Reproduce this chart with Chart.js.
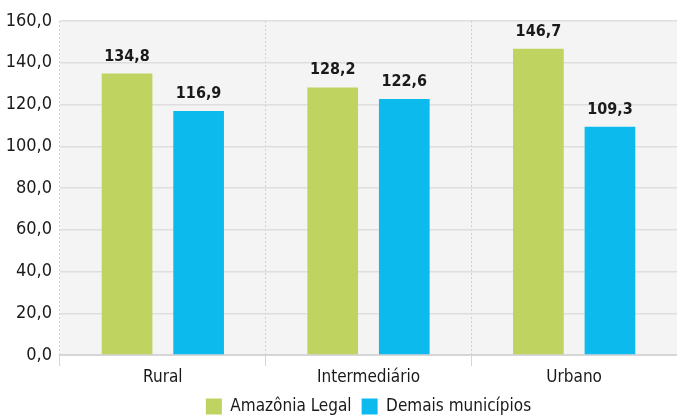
<!DOCTYPE html>
<html>
<head>
<meta charset="utf-8">
<script src="https://cdn.jsdelivr.net/npm/chart.js@4/dist/chart.umd.min.js"></script>
<style>
  html, body { margin: 0; padding: 0; background: #fff; }
  #wrap { width: 677px; height: 416px; }
</style>
</head>
<body>
<div id="wrap"><canvas id="grafico"></canvas></div>
<script>
// dados do gráfico
var categorias = ['Rural', 'Intermediário', 'Urbano'];
var amazoniaLegal = [134.8, 128.2, 146.7];
var demaisMunicipios = [116.9, 122.6, 109.3];
var ticksY = [0, 20, 40, 60, 80, 100, 120, 140, 160];

var fonte = "'DejaVu Sans Condensed', 'DejaVu Sans', sans-serif";

function virgula(v) {
  return Number(v).toFixed(1).replace('.', ',');
}

// fundo cinza só na área do gráfico
var fundo = {
  id: 'fundo',
  beforeDraw: function(chart) {
    var a = chart.chartArea, ctx = chart.ctx;
    ctx.save();
    ctx.fillStyle = '#f4f4f4';
    ctx.fillRect(a.left, a.top, a.right - a.left, a.bottom - a.top);
    ctx.restore();
  }
};

// rótulos em cima das barras
var rotulos = {
  id: 'rotulos',
  afterDatasetsDraw: function(chart) {
    var ctx = chart.ctx;
    ctx.save();
    ctx.font = 'bold 16px ' + fonte;
    ctx.fillStyle = '#1a1a1a';
    ctx.textAlign = 'center';
    ctx.textBaseline = 'alphabetic';
    chart.data.datasets.forEach(function(ds, i) {
      chart.getDatasetMeta(i).data.forEach(function(bar, j) {
        ctx.fillText(virgula(ds.data[j]), bar.x, bar.y - 13);
      });
    });
    ctx.restore();
  }
};

var ctx = document.getElementById('grafico').getContext('2d');
var grafico = new Chart(ctx, {
  type: 'bar',
  data: {
    labels: categorias,
    datasets: [{
      label: 'Amazônia Legal',
      data: amazoniaLegal,
      backgroundColor: '#bed360'
    }, {
      label: 'Demais municípios',
      data: demaisMunicipios,
      backgroundColor: '#0dbaed'
    }]
  },
  options: {
    responsive: true,
    maintainAspectRatio: false,
    animation: false,
    categoryPercentage: 0.696,
    barPercentage: 0.708,
    layout: { padding: { top: 21, right: -3, left: 0, bottom: -9 } },
    plugins: {
      legend: {
        position: 'bottom',
        fullSize: false,
        labels: {
          boxWidth: 16,
          boxHeight: 16,
          padding: 10,
          color: '#1a1a1a',
          font: { family: fonte, size: 17 }
        }
      },
      tooltip: { enabled: false }
    },
    scales: {
      x: {
        grid: {
          offset: true,
          color: '#d0d0d0',
          lineWidth: 1,
          tickLength: 11,
          tickColor: '#d6d6d6'
        },
        border: { display: true, color: '#d6d6d6', width: 2, dash: [2, 2] },
        ticks: {
          color: '#1a1a1a',
          padding: 1,
          font: { family: fonte, size: 17 }
        },
        afterFit: function(s) { s.height = 33; }
      },
      y: {
        min: 0,
        max: 160,
        afterBuildTicks: function(s) {
          s.ticks = ticksY.map(function(v) { return { value: v }; });
        },
        grid: { color: '#dedede', lineWidth: 1.5, drawTicks: false },
        border: { display: false },
        ticks: {
          color: '#1a1a1a',
          padding: 8,
          font: { family: fonte, size: 18 },
          callback: function(v) { return virgula(v); }
        },
        afterFit: function(s) { s.width = 60; }
      }
    }
  },
  plugins: [fundo, rotulos]
});
</script>
</body>
</html>
